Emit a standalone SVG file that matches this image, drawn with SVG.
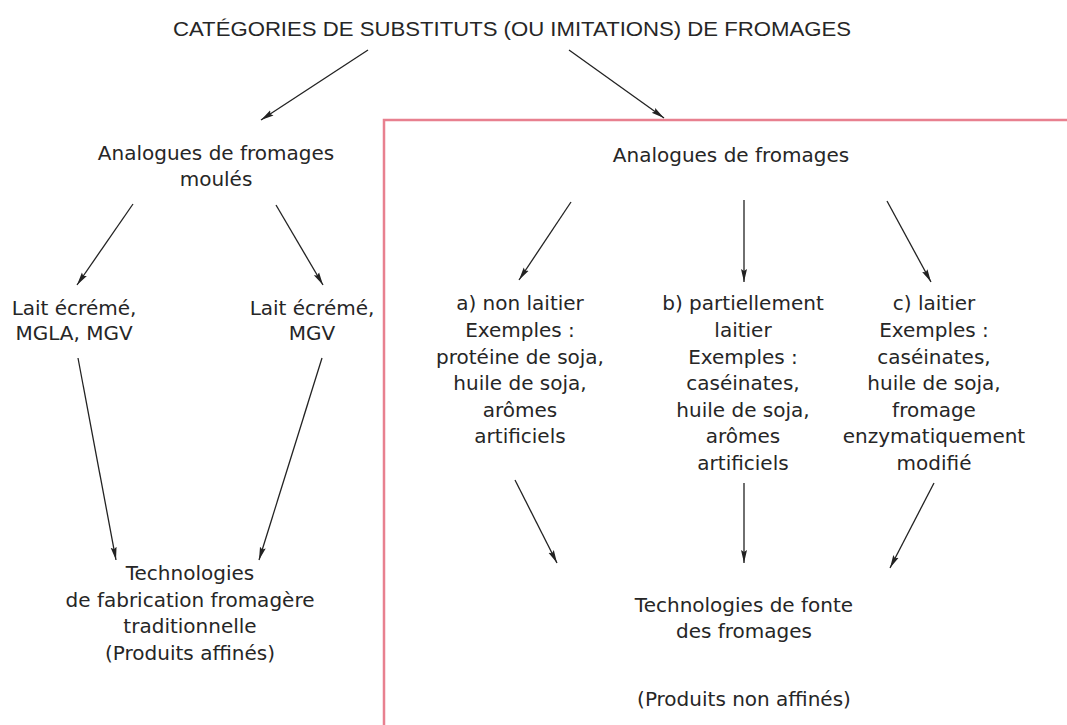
<svg xmlns="http://www.w3.org/2000/svg" width="1067" height="725" viewBox="0 0 1067 725">
<defs>
<style>
text{font-family:"DejaVu Sans","Liberation Sans",sans-serif;font-size:20px;fill:#262626;text-anchor:middle}
.title{font-family:"Liberation Sans",Arial,sans-serif;font-size:20.5px}
.conn line{stroke:#222;stroke-width:1.3;marker-end:url(#ah)}
</style>
<marker id="ah" viewBox="0 0 13 8" refX="13" refY="4" markerWidth="13" markerHeight="8" markerUnits="userSpaceOnUse" orient="auto">
<path d="M0,1 L13,4 L0,7 L2,4 Z" fill="#222"/>
</marker>
</defs>
<rect width="1067" height="725" fill="#fff"/>
<rect id="box" x="384" y="120" width="720" height="640" fill="none" stroke="#e8808f" stroke-width="2.5"/>

<g id="title"><text class="title" x="512" y="36" textLength="678" lengthAdjust="spacingAndGlyphs">CATÉGORIES DE SUBSTITUTS (OU IMITATIONS) DE FROMAGES</text></g>

<g id="moules"><text x="216" y="160">Analogues de fromages</text><text x="216" y="186">moulés</text></g>
<g id="lait1"><text x="74" y="315">Lait écrémé,</text><text x="74" y="340">MGLA, MGV</text></g>
<g id="lait2"><text x="312" y="315">Lait écrémé,</text><text x="312" y="340">MGV</text></g>
<g id="tradi"><text x="190" y="580">Technologies</text><text x="190" y="607">de fabrication fromagère</text><text x="190" y="633">traditionnelle</text><text x="190" y="660">(Produits affinés)</text></g>

<g id="analogues"><text x="731" y="162">Analogues de fromages</text></g>
<g id="colA"><text x="520" y="310">a) non laitier</text><text x="520" y="337">Exemples :</text><text x="520" y="364">protéine de soja,</text><text x="520" y="390">huile de soja,</text><text x="520" y="417">arômes</text><text x="520" y="443">artificiels</text></g>
<g id="colB"><text x="743" y="310">b) partiellement</text><text x="743" y="337">laitier</text><text x="743" y="364">Exemples :</text><text x="743" y="390">caséinates,</text><text x="743" y="417">huile de soja,</text><text x="743" y="443">arômes</text><text x="743" y="470">artificiels</text></g>
<g id="colC"><text x="934" y="310">c) laitier</text><text x="934" y="337">Exemples :</text><text x="934" y="364">caséinates,</text><text x="934" y="390">huile de soja,</text><text x="934" y="417">fromage</text><text x="934" y="443">enzymatiquement</text><text x="934" y="470">modifié</text></g>
<g id="fonte"><text x="744" y="612">Technologies de fonte</text><text x="744" y="638">des fromages</text></g>
<g id="nonaffines"><text x="744" y="706">(Produits non affinés)</text></g>

<g class="conn" id="connectors">
<line x1="368" y1="50" x2="261" y2="120"/>
<line x1="569" y1="50" x2="664" y2="118"/>
<line x1="133" y1="204" x2="77" y2="285"/>
<line x1="276" y1="205" x2="323" y2="285"/>
<line x1="78" y1="358" x2="116" y2="560"/>
<line x1="322" y1="358" x2="259" y2="560"/>
<line x1="571" y1="202" x2="519" y2="280"/>
<line x1="744" y1="200" x2="744" y2="282"/>
<line x1="887" y1="201" x2="931" y2="282"/>
<line x1="515" y1="480" x2="557" y2="563"/>
<line x1="744" y1="483" x2="744" y2="563"/>
<line x1="934" y1="483" x2="890" y2="568"/>
</g>
</svg>
